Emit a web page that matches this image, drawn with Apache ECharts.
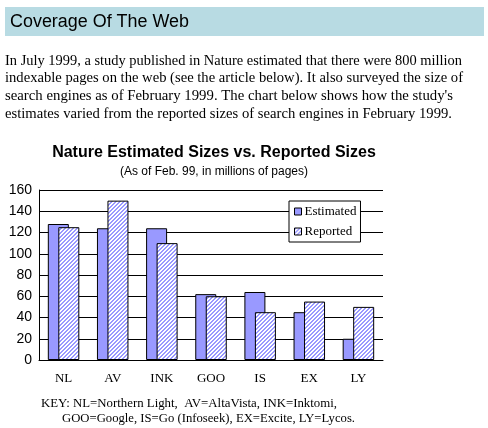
<!DOCTYPE html>
<html><head><meta charset="utf-8">
<script src="https://cdn.jsdelivr.net/npm/echarts@6/dist/echarts.min.js"></script>
<style>html,body{margin:0;padding:0;background:#fff;}#c{width:488px;height:428px;}</style>
</head><body><div id="c"></div>
<script>
const categories = ['NL','AV','INK','GOO','IS','EX','LY'];
const estimated = [128,124,124,62,64,45,20];
const reported = [125,150,110,60,45,55,50];
const yTicks = {min:0, max:160, interval:20};
const headerText = 'Coverage Of The Web';
const paragraph = [
 'In July 1999, a study published in Nature estimated that there were 800 million',
 'indexable pages on the web (see the article below). It also surveyed the size of',
 "search engines as of February 1999. The chart below shows how the study's",
 'estimates varied from the reported sizes of search engines in February 1999.'
];
const keyLines = [
 'KEY: NL=Northern Light,  AV=AltaVista, INK=Inktomi,',
 'GOO=Google, IS=Go (Infoseek), EX=Excite, LY=Lycos.'
];

const serif = '"Liberation Serif","Times New Roman",serif';
const sans = '"Liberation Sans",Arial,sans-serif';

const mctx = document.createElement('canvas').getContext('2d');
function fitScale(text, font, width){ mctx.font = font; return width / mctx.measureText(text).width; }

function hatch(){
  const c = document.createElement('canvas'); c.width=4; c.height=4;
  const ctx = c.getContext('2d');
  ctx.fillStyle='#ffffff'; ctx.fillRect(0,0,4,4);
  ctx.fillStyle='#9999ff';
  for(let x=0;x<4;x++)for(let y=0;y<4;y++){ if(((x+y)%4)<2) ctx.fillRect(x,y,1,1); }
  return c;
}
const pat = {image: hatch(), repeat:'repeat'};

function textEl(text, font, x, top, width){
  return {type:'text', x:x, y:top, scaleX: width ? fitScale(text, font, width) : 1,
    style:{text:text, font:font, fill:'#000', x:0, y:0, align:'left', verticalAlign:'top'}, silent:true};
}

const pFont = '14px '+serif;
const kFont = '13px '+serif;
const pWidths = [457, 458, 448, 447];
const graphics = [
  {type:'rect', shape:{x:5,y:7,width:479,height:29}, style:{fill:'#b8dbe3'}, silent:true},
  textEl(headerText, '18px '+sans, 10, 13, 179)
];
paragraph.forEach((t,i)=>graphics.push(textEl(t, pFont, 5, 54+i*17.8, pWidths[i])));
graphics.push(textEl(keyLines[0], kFont, 41, 397, 296));
graphics.push(textEl(keyLines[1], kFont, 62, 412, 293));

const chart = echarts.init(document.getElementById('c'), null, {renderer:'canvas'});
chart.setOption({
  animation:false,
  backgroundColor:'#fff',
  title:{text:'Nature Estimated Sizes vs. Reported Sizes', subtext:'(As of Feb. 99, in millions of pages)',
    left:209, textAlign:'center', top:140, itemGap:5,
    textStyle:{fontFamily:sans, fontSize:16, fontWeight:'bold', color:'#000'},
    subtextStyle:{fontFamily:sans, fontSize:12, color:'#000'}},
  legend:{orient:'vertical', left:289, top:201, backgroundColor:'#fff', borderColor:'#000', borderWidth:1,
    padding:[4,4,4,5], itemWidth:7, itemHeight:7, itemGap:7,
    textStyle:{fontFamily:serif, fontSize:13, color:'#000', padding:[0,0,0,-2]},
    data:[{name:'Estimated', icon:'rect', itemStyle:{borderColor:'#000', borderWidth:1}},
          {name:'Reported', icon:'rect', itemStyle:{borderColor:'#000', borderWidth:1}}]},
  grid:{left:39, right:105, top:190, bottom:68},
  xAxis:{type:'category', data:categories,
    axisLine:{lineStyle:{color:'#000', width:1}}, axisTick:{show:false},
    axisLabel:{color:'#000', fontFamily:serif, fontSize:13, margin:12}},
  yAxis:{type:'value', min:yTicks.min, max:yTicks.max, interval:yTicks.interval,
    axisLine:{show:true, lineStyle:{color:'#000'}}, axisTick:{show:false},
    splitLine:{lineStyle:{color:'#000', width:1}},
    axisLabel:{color:'#000', fontFamily:sans, fontSize:14, margin:7}},
  graphic:graphics,
  series:[
    {name:'Estimated', type:'bar', data:estimated, barWidth:21, barGap:'-50%',
     itemStyle:{color:'#9999ff', borderColor:'#000', borderWidth:1}},
    {name:'Reported', type:'bar', data:reported, barWidth:21,
     itemStyle:{color:pat, borderColor:'#000', borderWidth:1}}
  ]
});
</script></body></html>
